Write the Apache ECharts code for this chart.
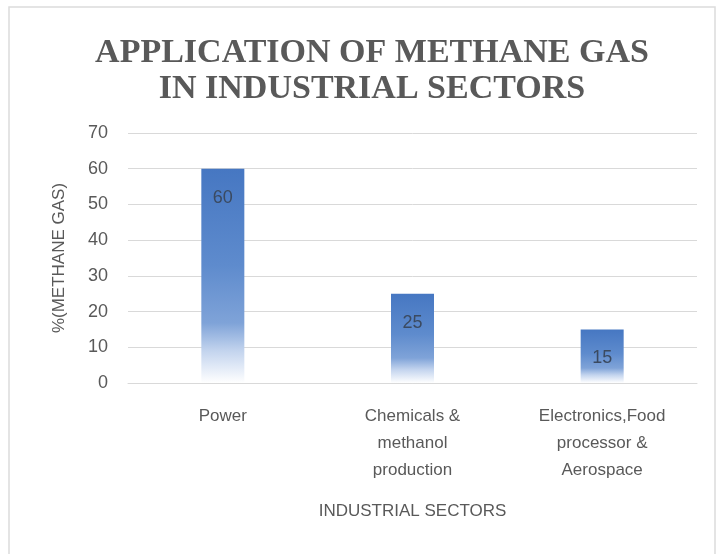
<!DOCTYPE html>
<html>
<head>
<meta charset="utf-8">
<script src="https://cdn.jsdelivr.net/npm/echarts@6/dist/echarts.min.js"></script>
<style>
html,body{margin:0;padding:0;background:#fff;}
#chart{width:718px;height:554px;}
</style>
</head>
<body>
<div id="chart"></div>
<script>
var categories = ['Power', 'Chemicals &\nmethanol\nproduction', 'Electronics,Food\nprocessor &\nAerospace'];
var values = [60, 25, 15];
var yTicks = {min: 0, max: 70, interval: 10};

var chart = echarts.init(document.getElementById('chart'), null, {renderer: 'canvas'});
var barColor = new echarts.graphic.LinearGradient(0, 0, 0, 1, [
  {offset: 0, color: '#4677c2'},
  {offset: 0.45, color: '#5e8bcd'},
  {offset: 0.72, color: '#7fa3d8'},
  {offset: 0.85, color: '#c3d4ee'},
  {offset: 1, color: '#ffffff'}
]);
chart.setOption({
  animation: false,
  backgroundColor: '#ffffff',
  title: {
    text: 'APPLICATION OF METHANE GAS\nIN INDUSTRIAL SECTORS',
    left: 367,
    textAlign: 'center',
    top: 30,
    textStyle: {
      fontFamily: 'Liberation Serif',
      fontWeight: 'bold',
      fontSize: 34,
      lineHeight: 36,
      color: '#595959'
    }
  },
  graphic: [
    {type: 'rect', shape: {x: 9, y: 7, width: 706, height: 560}, style: {fill: 'none', stroke: '#dcdcdc', lineWidth: 1.5}, silent: true}
  ],
  grid: {left: 128, right: 21, top: 133, bottom: 171, containLabel: false},
  xAxis: {
    type: 'category',
    data: categories,
    name: 'INDUSTRIAL SECTORS',
    nameLocation: 'middle',
    nameGap: 120,
    nameTextStyle: {fontFamily: 'Liberation Sans', fontSize: 17, color: '#595959'},
    axisLine: {show: true, lineStyle: {color: '#d9d9d9', width: 1}},
    axisTick: {show: false},
    axisLabel: {
      fontFamily: 'Liberation Sans', fontSize: 17, color: '#595959',
      lineHeight: 27, margin: 20, interval: 0
    }
  },
  yAxis: {
    type: 'value',
    min: yTicks.min, max: yTicks.max, interval: yTicks.interval,
    name: '%(METHANE GAS)',
    nameLocation: 'middle',
    nameGap: 60,
    nameRotate: 90,
    nameTextStyle: {fontFamily: 'Liberation Sans', fontSize: 17, color: '#595959'},
    axisLine: {show: false},
    axisTick: {show: false},
    axisLabel: {fontFamily: 'Liberation Sans', fontSize: 18, color: '#595959', margin: 20},
    splitLine: {lineStyle: {color: '#d9d9d9', width: 1}}
  },
  series: [{
    type: 'bar',
    data: values,
    barWidth: 43,
    itemStyle: {color: barColor},
    label: {
      show: true,
      position: 'insideTop',
      distance: 20,
      fontFamily: 'Liberation Sans',
      fontSize: 18,
      color: '#3b4a60'
    }
  }]
});
</script>
</body>
</html>
